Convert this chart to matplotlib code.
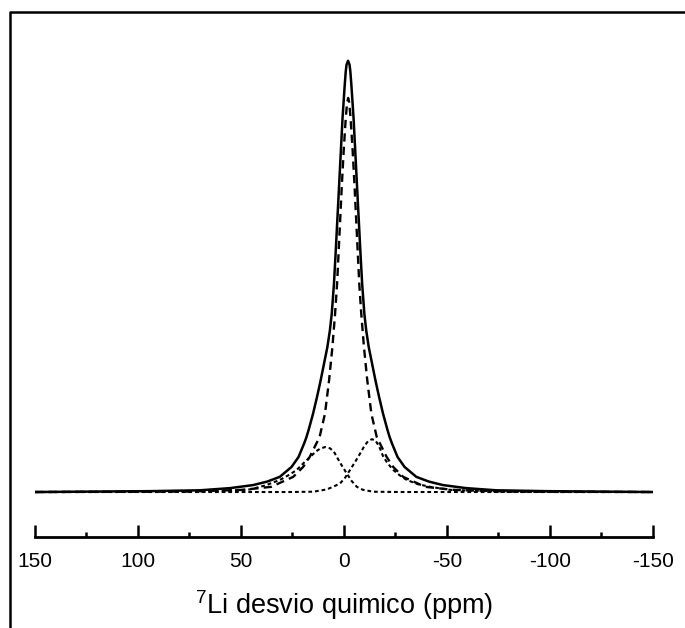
import matplotlib
matplotlib.use("Agg")
import matplotlib.pyplot as plt
from matplotlib.lines import Line2D
from matplotlib.ticker import MultipleLocator

plt.rcParams['font.family'] = ['Liberation Sans', 'DejaVu Sans']
plt.rcParams['mathtext.fontset'] = 'custom'
plt.rcParams['mathtext.rm'] = 'Liberation Sans'
plt.rcParams['axes.unicode_minus'] = False

exp_ppm = [150, 94.12, 69.84, 55.27, 44.10, 37.30, 31.13, 25.40, 22.00, 19.23, 18.16,
           17.14, 14.96, 13.02, 11.27, 9.62, 8.01, 6.80, 5.88, 4.81, 3.93, 3.11, 2.28,
           1.46, 0.63, -0.44, -0.92, -1.31, -2.04, -2.77, -3.16, -3.64, -4.71, -5.54,
           -6.36, -7.19, -8.01, -8.89, -9.96, -10.88, -12.09, -13.70, -15.35, -17.10,
           -19.04, -21.22, -22.24, -23.31, -26.08, -29.48, -35.21, -41.38, -48.18,
           -59.35, -73.92, -98.20, -150]
exp_int = [0, 0.2, 0.4, 0.9, 1.6, 2.4, 3.5, 5.8, 8.1, 11.3, 12.7,
           14.3, 18.1, 22.0, 25.8, 29.7, 33.5, 37.3, 41.2, 48.1, 55.8, 63.4, 71.1,
           78.8, 86.5, 94.2, 97.2, 98.8, 99.7, 98.8, 97.2, 94.2, 86.5, 78.8,
           71.1, 63.4, 55.8, 48.1, 41.2, 37.3, 33.5, 29.7, 25.8, 22.0,
           18.1, 14.3, 12.7, 11.3, 8.1, 5.8, 3.5, 2.4, 1.6,
           0.9, 0.4, 0.2, 0]

# main fitted component (dashed)
main_ppm = [150, 75.6, 48.9, 35.30, 24.61, 19.76, 16.60, 11.79, 9.17, 7.18, 5.57, 4.26,
            3.29, 2.51, 1.74, 0.96, 0.09, -0.93, -1.61, -2.1, -2.59, -3.27, -4.29,
            -5.16, -5.94, -6.71, -7.49, -8.46, -9.77, -11.38, -13.37, -15.99, -20.80,
            -23.96, -28.81, -39.50, -53.1, -79.8, -150]
main_int = [0, 0.1, 0.5, 1.2, 3.5, 5.8, 8.1, 12.7, 18.1, 25.8, 33.5, 41.2,
            48.1, 55.8, 63.4, 71.1, 78.8, 86.5, 90.1, 91.1, 90.1, 86.5, 78.8,
            71.1, 63.4, 55.8, 48.1, 41.2, 33.5, 25.8, 18.1, 12.7, 8.1,
            5.8, 3.5, 1.2, 0.5, 0.1, 0]

# minor fitted components (dotted)
side1_ppm = [150, 94.1, 69.8, 55.3, 45.6, 38.3, 31.0, 26.1, 22.9, 19.3, 16.4, 13.5,
             11.6, 9.1, 6.7, 4.8, 3.4, 1.1, -1.4, -3.7, -6.3, -9.3, -14.3, -27.3, -150]
side1_int = [0, 0.02, 0.1, 0.35, 0.6, 1.5, 2.8, 4.1, 5.1, 6.8, 8.1, 9.4,
             10.0, 10.4, 10.1, 9.3, 8.1, 6.2, 4.3, 2.6, 1.2, 0.5, 0.07, 0, 0]

side2_ppm = [150, 26.1, 14.8, 8.3, 4.8, 1.8, -0.6, -3.0, -5.4, -7.9, -9.8, -11.8,
             -13.6, -15.2, -17.1, -19.2, -21.5, -24.0, -27.3, -30.5, -36.0, -41.9,
             -51.5, -75.9, -105, -150]
side2_int = [0, 0, 0.07, 0.6, 1.3, 2.0, 3.3, 5.1, 6.9, 8.9, 10.5, 11.8,
             12.2, 12.0, 10.6, 8.1, 6.5, 5.1, 3.8, 2.8, 1.8, 1.2,
             0.5, 0.1, 0, 0]

W, H = 685, 628
fig = plt.figure(figsize=(W / 100, H / 100), dpi=100)
ax = fig.add_axes([35 / W, (H - 537) / H, 617.7 / W, (537 - 40) / H])

ax.plot(exp_ppm, exp_int, color='black', lw=1.8, solid_joinstyle='round')
ax.plot(main_ppm, main_int, color='black', lw=1.7, dashes=(3.5, 2.2))
ax.plot(side1_ppm, side1_int, color='black', lw=1.5, dashes=(1.8, 1.4))
ax.plot(side2_ppm, side2_int, color='black', lw=1.5, dashes=(1.8, 1.4))

ax.set_xlim(150, -150)
ax.set_ylim(-10.4, 104.5)

for s in ['left', 'right', 'top']:
    ax.spines[s].set_visible(False)
ax.spines['bottom'].set_linewidth(2.0)
ax.set_yticks([])
ax.xaxis.set_major_locator(MultipleLocator(50))
ax.xaxis.set_minor_locator(MultipleLocator(25))
ax.tick_params(axis='x', which='major', direction='in', length=8.6, width=1.8,
               labelsize=15, pad=11)
ax.tick_params(axis='x', which='minor', direction='in', length=3.6, width=1.8)
ax.set_xlabel(r'$^{7}$Li desvio quimico (ppm)', fontsize=19.5, labelpad=12)

# outer frame (left and top edges only)
fig.add_artist(Line2D([10 / W, 10 / W, 1], [0, 1 - 12 / H, 1 - 12 / H],
                      transform=fig.transFigure, color='black', lw=1.8))

fig.savefig('out.png', dpi=100)
